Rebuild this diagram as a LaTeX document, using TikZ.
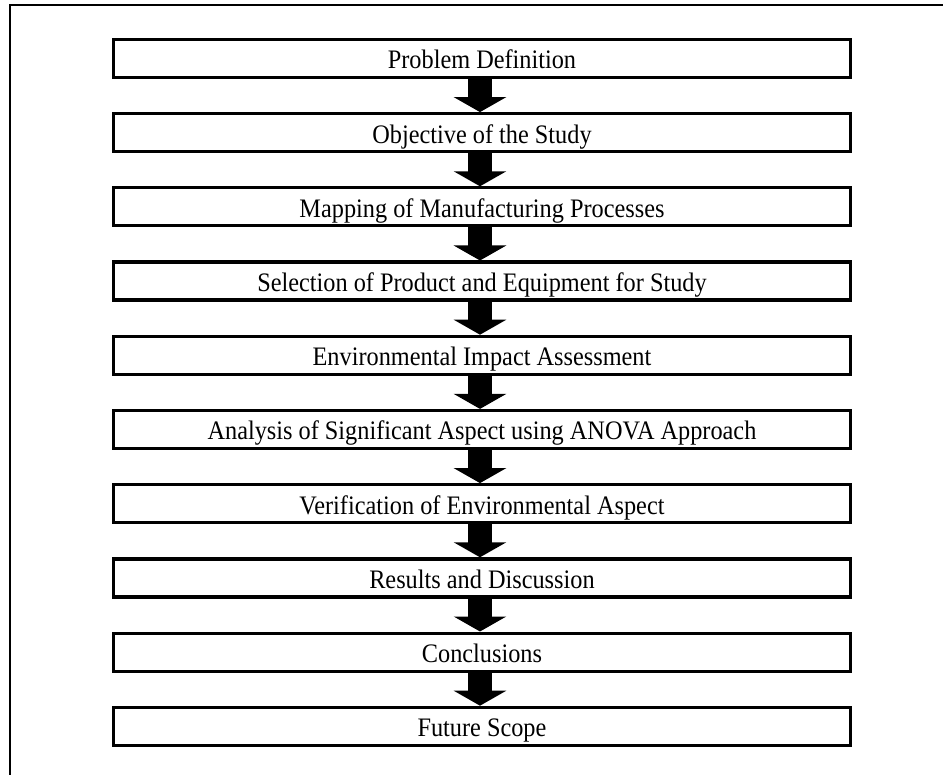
\documentclass[tikz,border=0pt]{standalone}
\usepackage{fontspec}
\setmainfont[FakeStretch=0.91]{Liberation Serif}
\usetikzlibrary{positioning,arrows.meta}

\begin{document}
\begin{tikzpicture}[x=1pt,y=-1pt,
  stage/.style={draw, line width=3.2pt, minimum width=737pt, minimum height=38pt,
    inner sep=0pt, text height=21pt, text depth=0pt, font=\fontsize{26.7}{30}\selectfont},
  flow/.style={line width=24pt, -{Triangle[width=52pt,length=15pt]}},
  node distance=33pt]
  \useasboundingbox (0,0) rectangle (943,775);
  \clip (0,0) rectangle (943,775);
  \draw [line width=2pt] (10,800) |- (960,5);
  \node [stage] (problem) at (482,58.5) {Problem Definition};
  \node [stage] (objective) [below=of problem] {Objective of the Study};
  \node [stage] (mapping) [below=of objective] {Mapping of Manufacturing Processes};
  \node [stage] (selection) [below=of mapping] {Selection of Product and Equipment for Study};
  \node [stage] (impact) [below=of selection] {Environmental Impact Assessment};
  \node [stage] (anova) [below=of impact] {Analysis of Significant Aspect using ANOVA Approach};
  \node [stage] (verification) [below=of anova] {Verification of Environmental Aspect};
  \node [stage] (results) [below=of verification] {Results and Discussion};
  \node [stage] (conclusions) [below=of results] {Conclusions};
  \node [stage] (scope) [below=of conclusions] {Future Scope};
  \foreach \a/\b in {problem/objective, objective/mapping, mapping/selection,
      selection/impact, impact/anova, anova/verification, verification/results,
      results/conclusions, conclusions/scope}
    \draw [flow] ([xshift=-2pt]\a.south) -- ([xshift=-2pt]\b.north);
\end{tikzpicture}
\end{document}
